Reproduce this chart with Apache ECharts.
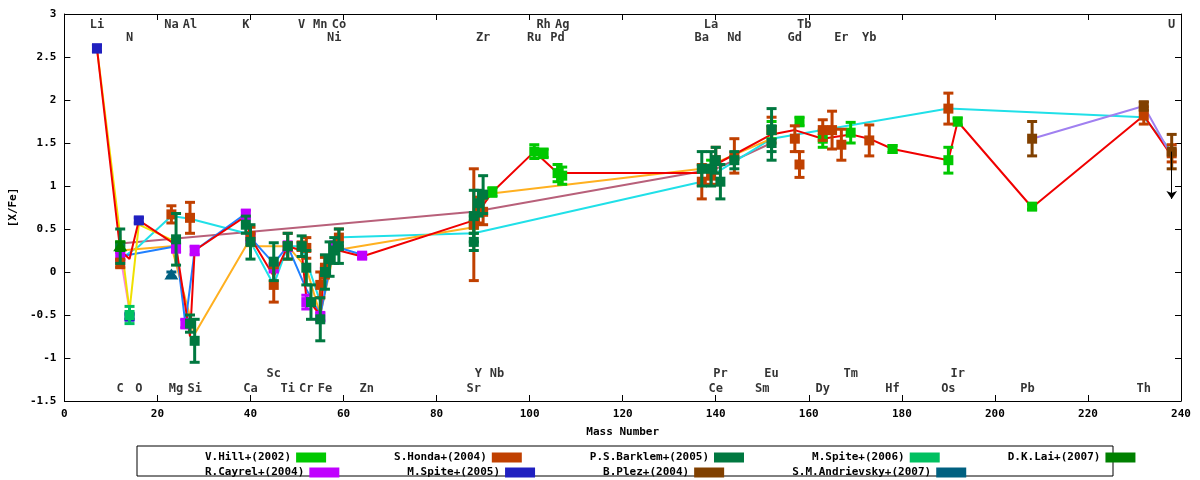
<!DOCTYPE html>
<html><head><meta charset="utf-8">
<script src="https://cdn.jsdelivr.net/npm/echarts@6/dist/echarts.min.js"></script>
<style>html,body{margin:0;background:#fff}#c{width:1200px;height:480px}</style>
</head><body><div id="c"></div>
<script>
// element labels: [name, mass, row]  rows: 0/1 top, 2/3 bottom
var elemLabels = [
  ["Li",7,0],["Na",23,0],["Al",27,0],["K",39,0],["V",51,0],["Mn",55,0],["Co",59,0],["Rh",103,0],["Ag",107,0],["La",139,0],["Tb",159,0],["U",238,0],
  ["N",14,1],["Ni",58,1],["Zr",90,1],["Ru",101,1],["Pd",106,1],["Ba",137,1],["Nd",144,1],["Gd",157,1],["Er",167,1],["Yb",173,1],
  ["Sc",45,2],["Y",89,2],["Nb",93,2],["Pr",141,2],["Eu",152,2],["Tm",169,2],["Ir",192,2],
  ["C",12,3],["O",16,3],["Mg",24,3],["Si",28,3],["Ca",40,3],["Ti",48,3],["Cr",52,3],["Fe",56,3],["Zn",65,3],["Sr",88,3],["Ce",140,3],["Sm",150,3],["Dy",163,3],["Hf",178,3],["Os",190,3],["Pb",207,3],["Th",232,3]
];
var rowY = [2.87, 2.72, -1.19, -1.36];

// observations: [mass, [X/Fe], error]
var hill = [[12,0.3,0.05],[88,0.55,0.1],[92,0.93,0.05],[101,1.4,0.08],[103,1.38,0.05],[106,1.15,0.1],[107,1.12,0.1],[139,1.2,0.1],[152,1.65,0.1],[158,1.75,0.05],[163,1.55,0.1],[169,1.62,0.12],[178,1.43,0.04],[190,1.3,0.15],[192,1.75,0.04],[208,0.76,0.03]];
var cayrel = [[12,0.18,0.05],[24,0.28,0.05],[26,-0.6,0.05],[28,0.25,0.05],[39,0.67,0.05],[40,0.4,0.05],[45,0.05,0.05],[48,0.3,0.05],[52,-0.35,0.08],[55,-0.52,0.05],[56,0.0,0.05],[58,0.3,0.05],[64,0.19,0.03]];
var honda = [[12,0.1,0.05],[23,0.67,0.1],[27,0.63,0.18],[40,0.42,0.1],[45,-0.15,0.2],[48,0.3,0.15],[51,0.3,0.05],[52,0.28,0.12],[55,-0.15,0.15],[56,0.05,0.12],[59,0.4,0.1],[88,0.55,0.65],[89,0.72,0.15],[90,0.7,0.15],[137,1.05,0.2],[139,1.12,0.1],[140,1.3,0.15],[144,1.35,0.2],[152,1.65,0.15],[157,1.55,0.15],[158,1.25,0.15],[163,1.65,0.12],[165,1.65,0.22],[167,1.48,0.18],[173,1.53,0.18],[190,1.9,0.18],[232,1.82,0.1],[238,1.38,0.1]];
var barklem = [[12,0.3,0.2],[24,0.38,0.3],[27,-0.6,0.1],[28,-0.8,0.25],[39,0.55,0.1],[40,0.35,0.2],[45,0.12,0.22],[48,0.3,0.15],[51,0.3,0.12],[52,0.05,0.2],[53,-0.35,0.2],[55,-0.55,0.25],[56,0.0,0.2],[57,0.15,0.2],[58,0.25,0.15],[59,0.3,0.2],[88,0.65,0.3],[88,0.35,0.1],[89,0.8,0.15],[90,0.9,0.22],[137,1.2,0.2],[139,1.2,0.2],[140,1.3,0.15],[141,1.05,0.2],[144,1.3,0.1],[152,1.65,0.25],[152,1.5,0.2]];
var spite06 = [[14,-0.5,0.1]];
var spite05 = [[7,2.6,0.04],[14,-0.52,0.03],[16,0.6,0.03]];
var plez = [[208,1.55,0.2],[232,1.93,0.05],[238,1.4,0.2]];
var andrievsky = [[23,-0.03,0.03]];
var lai = [[12,0.3,0.05]];
var uLimit = [238, 1.4, 0.85];

// model curves
var mRed = [[7,2.6],[12,0.25],[14,0.15],[16,0.6],[23,0.35],[24,0.3],[27,-0.75],[28,0.25],[39,0.65],[40,0.4],[45,-0.05],[48,0.3],[51,0.25],[52,-0.3],[55,-0.5],[56,0.1],[58,0.3],[59,0.25],[64,0.18],[88,0.6],[89,0.7],[92,0.93],[101,1.4],[106,1.15],[137,1.15],[140,1.25],[152,1.6],[157,1.65],[163,1.55],[169,1.6],[173,1.55],[178,1.43],[190,1.3],[192,1.75],[208,0.75],[232,1.82],[238,1.35]];
var mYellow = [[7,2.6],[14,-0.45],[16,0.55],[24,0.35]];
var mPink = [[12,0.2],[14,-0.45]];
var mCyan = [[12,0.15],[16,0.3],[23,0.65],[27,0.62],[39,0.45],[45,-0.15],[48,0.3],[51,0.3],[55,-0.35],[58,0.4],[88,0.45],[137,1.05],[152,1.55],[190,1.9],[232,1.8],[238,1.4]];
var mOrange = [[12,0.25],[23,0.3],[28,-0.72],[39,0.3],[48,0.3],[52,0.05],[55,-0.5],[58,0.25],[88,0.52],[90,0.9],[137,1.2],[152,1.55]];
var mBlue = [[12,0.18],[24,0.3],[26,-0.6],[28,0.25],[39,0.68],[40,0.4],[45,0.1],[48,0.3],[52,-0.2],[55,-0.5],[58,0.3],[64,0.2]];
var mMauve = [[12,0.33],[88,0.7],[140,1.2],[152,1.5]];
var mLavender = [[208,1.55],[232,1.93],[238,1.35]];

var font = 'DejaVu Sans Mono';
function model(d, c) {
  return {type:'line', data:d, symbol:'none', lineStyle:{color:c, width:2}, z:1, silent:true};
}
function obs(name, d, c, sym) {
  return [{
    name:name, type:'custom', z:3, itemStyle:{color:c},
    data:d,
    renderItem:function(p, api){
      var x = api.value(0), y = api.value(1), e = api.value(2);
      var a = api.coord([x, y+e]), b = api.coord([x, y-e]), m = api.coord([x,y]);
      var st = {stroke:c, lineWidth:3};
      var kids = [
        {type:'line', shape:{x1:a[0],y1:a[1],x2:b[0],y2:b[1]}, style:st},
        {type:'line', shape:{x1:a[0]-5,y1:a[1],x2:a[0]+5,y2:a[1]}, style:st},
        {type:'line', shape:{x1:b[0]-5,y1:b[1],x2:b[0]+5,y2:b[1]}, style:st}
      ];
      if (sym == 'tri') kids.push({type:'polygon', shape:{points:[[m[0],m[1]-6],[m[0]-7,m[1]+5],[m[0]+7,m[1]+5]]}, style:{fill:c}});
      else kids.push({type:'rect', shape:{x:m[0]-5,y:m[1]-5,width:10,height:10}, style:{fill:c}});
      return {type:'group', children:kids};
    }
  }];
}

var series = [
  model(mMauve,'#b8607a'), model(mCyan,'#20e0e8'), model(mOrange,'#ffb020'), model(mBlue,'#2080ff'),
  model(mPink,'#ff80e0'), model(mYellow,'#f0e000'), model(mRed,'#f00000'), model(mLavender,'#a080f0')
];
series = series.concat(
  obs('V.Hill+(2002)', hill, '#00c800'),
  obs('R.Cayrel+(2004)', cayrel, '#c000ff'),
  obs('S.Honda+(2004)', honda, '#c04000'),
  obs('M.Spite+(2005)', spite05, '#2020c0'),
  obs('P.S.Barklem+(2005)', barklem, '#007840'),
  obs('B.Plez+(2004)', plez, '#804000'),
  obs('M.Spite+(2006)', spite06, '#00c060'),
  obs('S.M.Andrievsky+(2007)', andrievsky, '#006080', 'tri'),
  obs('D.K.Lai+(2007)', lai, '#008000', 'tri')
);
series.push({
  type:'scatter', symbolSize:0, silent:true, z:5,
  data: elemLabels.map(function(e){ return {value:[e[1], rowY[e[2]]], name:e[0]}; }),
  label:{show:true, position:'inside', formatter:'{b}', color:'#000', fontFamily:font, fontSize:12, fontWeight:'bold'},
  markLine:{silent:true, symbol:['none','arrow'], symbolSize:8, label:{show:false},
    lineStyle:{color:'#000', width:1, type:'solid'},
    data:[[{coord:[uLimit[0],uLimit[1]]},{coord:[uLimit[0],uLimit[2]]}]]}
});

function leg(names, top) {
  return {top:top, left:200, itemGap:68, itemWidth:30, itemHeight:10, align:'right',
    data:names, textStyle:{fontFamily:font, fontSize:11, fontWeight:'bold', color:'#000'}, icon:'rect'};
}

var chart = echarts.init(document.getElementById('c'));
chart.setOption({
  animation:false,
  grid:{left:64, right:19, top:14, bottom:79},
  graphic:[{type:'rect', shape:{x:137,y:446,width:976,height:30}, style:{fill:'none', stroke:'#000', lineWidth:1}}],
  legend:[leg(['V.Hill+(2002)','S.Honda+(2004)','P.S.Barklem+(2005)','M.Spite+(2006)','D.K.Lai+(2007)'],447),
          leg(['R.Cayrel+(2004)','M.Spite+(2005)','B.Plez+(2004)','S.M.Andrievsky+(2007)'],462)],
  xAxis:[{type:'value', min:0, max:240, interval:20, name:'Mass Number', nameLocation:'middle', nameGap:26,
    nameTextStyle:{fontFamily:font, fontSize:11, fontWeight:'bold', color:'#000'},
    axisLine:{onZero:false, lineStyle:{color:'#000'}}, axisTick:{inside:true, length:6, lineStyle:{color:'#000'}},
    axisLabel:{fontFamily:font, fontSize:11, fontWeight:'bold', color:'#000'}, splitLine:{show:false}},
    {type:'value', position:'top', min:0, max:240, interval:20, axisLine:{onZero:false, lineStyle:{color:'#000'}},
    axisTick:{inside:true, length:6, lineStyle:{color:'#000'}}, axisLabel:{show:false}, splitLine:{show:false}}],
  yAxis:[{type:'value', min:-1.5, max:3, interval:0.5, name:'[X/Fe]', nameLocation:'middle', nameGap:40,
    nameTextStyle:{fontFamily:font, fontSize:11, fontWeight:'bold', color:'#000'},
    axisLine:{show:true, onZero:false, lineStyle:{color:'#000'}}, axisTick:{show:true, inside:true, length:6, lineStyle:{color:'#000'}},
    axisLabel:{fontFamily:font, fontSize:11, fontWeight:'bold', color:'#000', formatter:function(v){return String(v);}}, splitLine:{show:false}},
    {type:'value', position:'right', min:-1.5, max:3, interval:0.5, axisLine:{show:true, onZero:false, lineStyle:{color:'#000'}},
    axisTick:{show:true, inside:true, length:6, lineStyle:{color:'#000'}}, axisLabel:{show:false}, splitLine:{show:false}}],
  series:series
});
</script></body></html>
